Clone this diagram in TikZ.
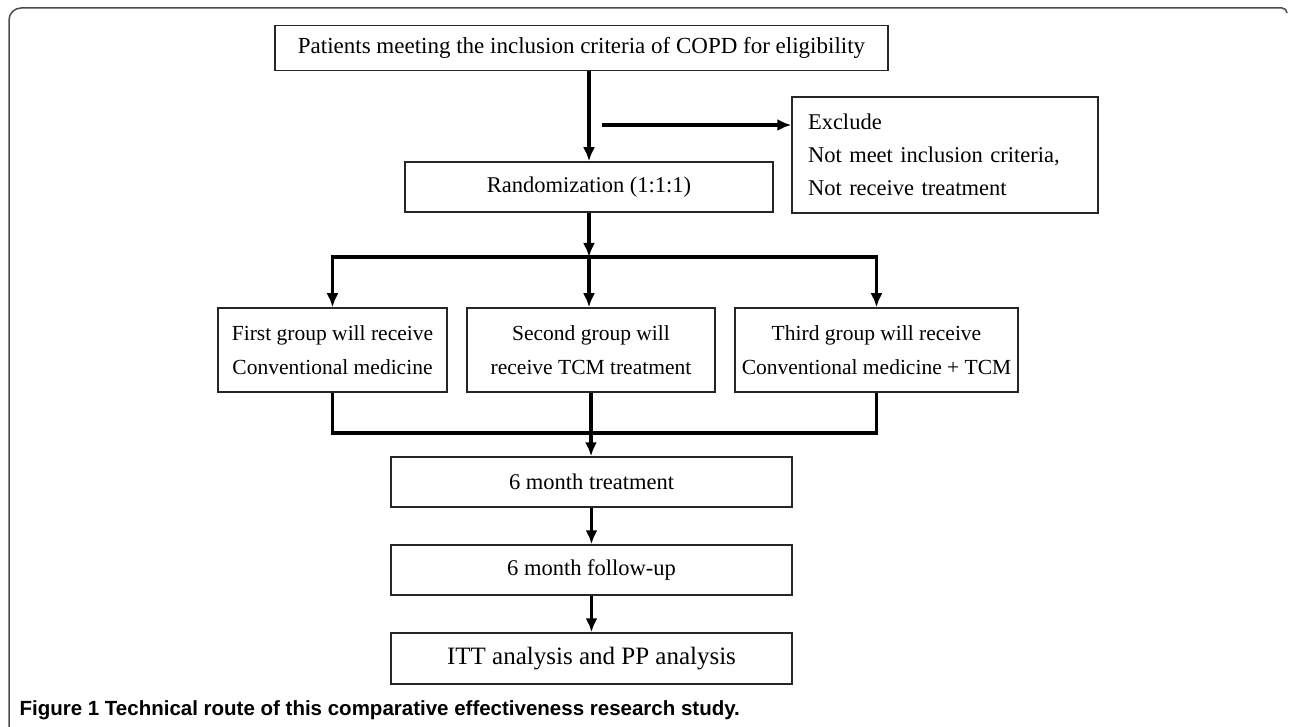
\documentclass[tikz,border=0pt]{standalone}
\usepackage{fontspec}
\setmainfont{Liberation Serif}
\newfontfamily\capfont{Liberation Sans}
\usetikzlibrary{arrows.meta}
\begin{document}
\begin{tikzpicture}[>={Latex[length=14pt,width=12pt]}, x=1pt, y=-1pt,
    box/.style={draw=black!85, line width=1.5pt, inner sep=0pt, align=center,
        font=\fontsize{22.5}{34}\selectfont},
    group/.style={box, minimum height=84pt, font=\fontsize{21.5}{34}\selectfont},
    flow/.style={->, line width=3.2pt},
    link/.style={line width=3.2pt}]
    \useasboundingbox (0,0) rectangle (1290,727);

    \draw[line width=1.5pt, black!70] (9,727) -- (9,20) arc (180:270:12) -- (1282,8) arc (270:360:5);

    \node[box, minimum width=613pt, minimum height=45pt, font=\fontsize{23}{26}\selectfont] (elig) at (581.5,48) {Patients meeting the inclusion criteria of COPD for eligibility};
    \node[box, minimum width=368pt, minimum height=50pt] (rand) at (589,187) {Randomization (1:1:1)};
    \node[box, align=left, inner xsep=16pt, text width=274pt, minimum height=116pt,
        font=\fontsize{22.5}{33}\selectfont] (excl) at (945,155) {Exclude\\Not meet inclusion criteria,\\Not receive treatment};

    \node[group, minimum width=229pt] (first) at (332.5,350) {First group will receive\\Conventional medicine};
    \node[group, minimum width=248pt] (second) at (591,350) {Second group will\\receive TCM treatment};
    \node[group, minimum width=283pt] (third) at (876.5,350) {Third group will receive\\Conventional medicine + TCM};

    \node[box, minimum width=401pt, minimum height=50pt] (treat) at (591.5,482) {6 month treatment};
    \node[box, minimum width=401pt, minimum height=50pt] (follow) at (591.5,570) {6 month follow-up};
    \node[box, minimum width=401pt, minimum height=51pt, font=\fontsize{25}{28}\selectfont] (itt) at (591.5,658.5) {ITT analysis and PP analysis};

    \coordinate (split) at (602,125);
    \coordinate (fork) at (589,257);
    \coordinate (join) at (591,433);

    \draw[flow] (elig.south -| rand.north) -- (rand.north);
    \draw[flow] (split) -- (split -| excl.west);
    \draw[flow] (rand.south) -- (fork);
    \draw[flow] (fork) -| (first.north);
    \draw[flow] (fork) -| (third.north);
    \draw[flow] (fork) -- (fork |- second.north);

    \draw[link] (first.south) |- (join) -| (third.south);
    \draw[link] (second.south) -- (join);
    \draw[flow] (join) -- (join |- treat.north);
    \draw[flow] (treat.south) -- (follow.north);
    \draw[flow] (follow.south) -- (itt.north);

    \node[anchor=base west, font=\capfont\bfseries\fontsize{20.5}{24}\selectfont] (caption) at (16,715) {Figure 1 Technical route of this comparative effectiveness research study.};
\end{tikzpicture}
\end{document}
